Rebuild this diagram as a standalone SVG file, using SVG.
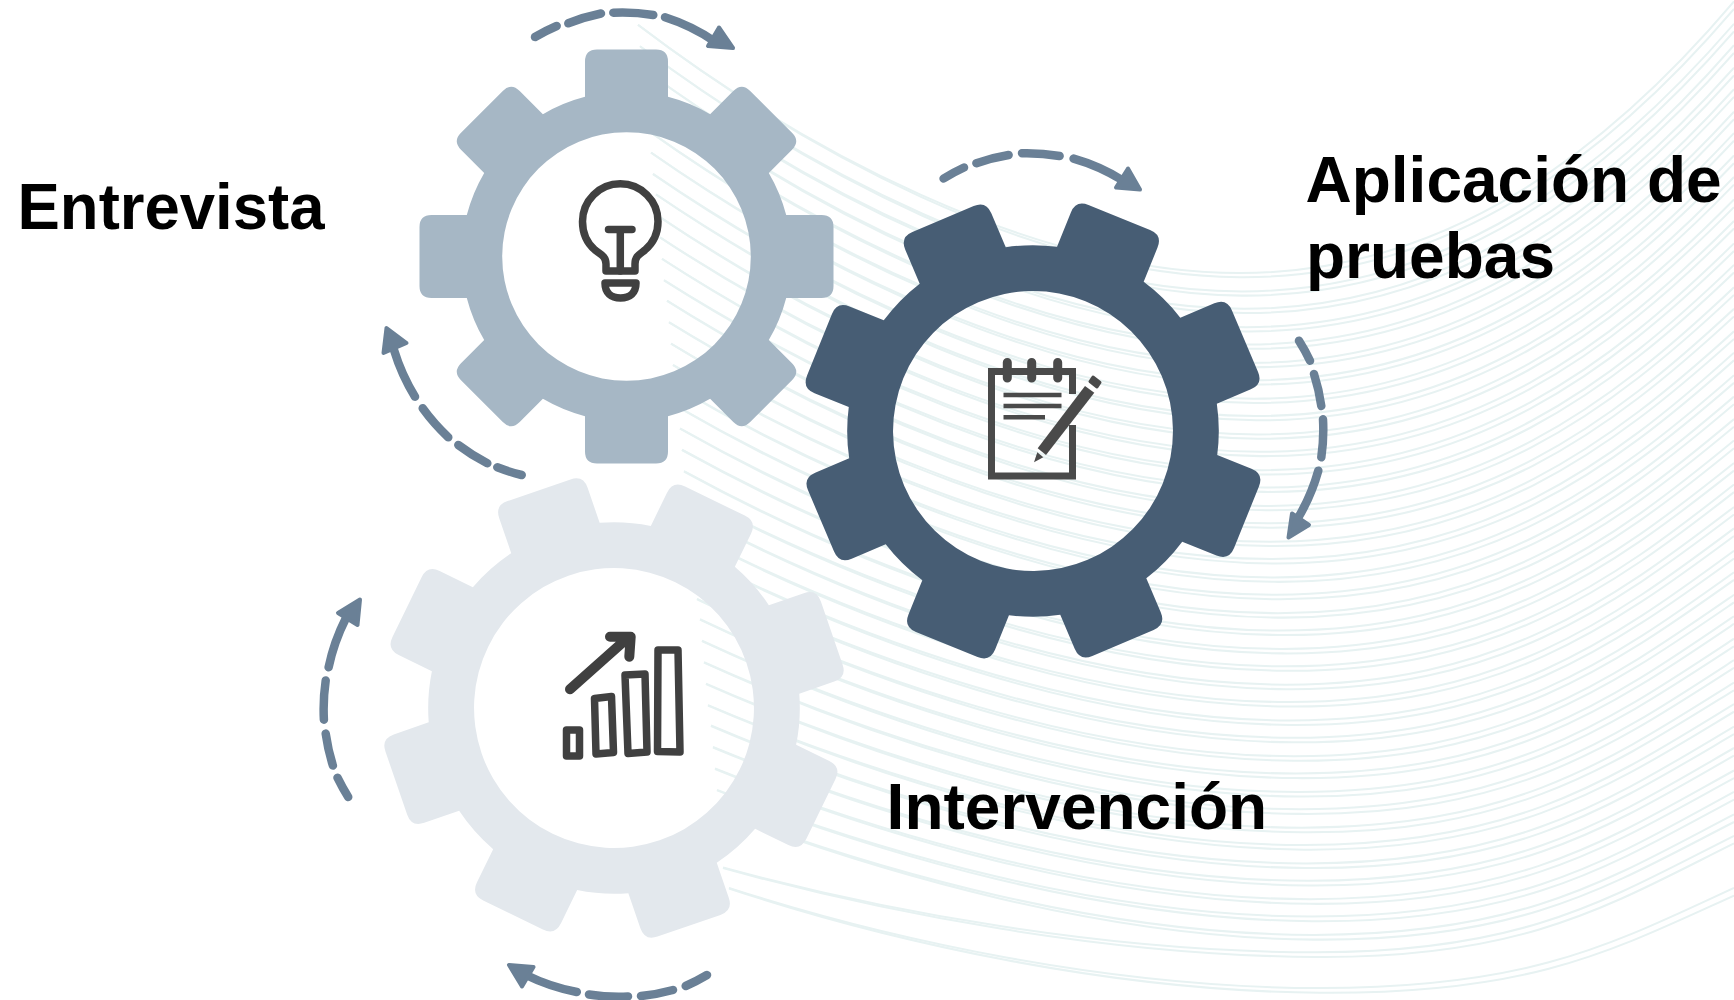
<svg xmlns="http://www.w3.org/2000/svg" xmlns:xlink="http://www.w3.org/1999/xlink" width="1734" height="1000" viewBox="0 0 1734 1000">
<style>
.bgl{fill:none;stroke:#e7f2f2;stroke-width:2}
.dash{fill:none;stroke:#6a8096;stroke-width:8.5;stroke-linecap:round}
.head{fill:#6a8096;stroke:#6a8096;stroke-width:4;stroke-linejoin:round}
.label{font-family:"Liberation Sans",Arial,sans-serif;font-weight:700;font-size:64px;fill:#000}
.ic{fill:none;stroke:#404040;stroke-width:7.5;stroke-linejoin:round;stroke-linecap:round}
.nb{fill:none;stroke:#4a4a4a;stroke-width:7}
</style>
<defs>
<path id="gear-a" fill-rule="evenodd" d="M-41.5 -159.7V-195Q-41.5 -207 -29.5 -207H29.5Q41.5 -207 41.5 -195V-159.7A165 165 0 0 1 83.6 -142.3L106.8 -165.5Q115.3 -174 123.7 -165.5L165.5 -123.7Q174 -115.3 165.5 -106.8L142.3 -83.6A165 165 0 0 1 159.7 -41.5H195Q207 -41.5 207 -29.5V29.5Q207 41.5 195 41.5H159.7A165 165 0 0 1 142.3 83.6L165.5 106.8Q174 115.3 165.5 123.7L123.7 165.5Q115.3 174 106.8 165.5L83.6 142.3A165 165 0 0 1 41.5 159.7V195Q41.5 207 29.5 207H-29.5Q-41.5 207 -41.5 195V159.7A165 165 0 0 1 -83.6 142.3L-106.8 165.5Q-115.3 174 -123.7 165.5L-165.5 123.7Q-174 115.3 -165.5 106.8L-142.3 83.6A165 165 0 0 1 -159.7 41.5H-195Q-207 41.5 -207 29.5V-29.5Q-207 -41.5 -195 -41.5H-159.7A165 165 0 0 1 -142.3 -83.6L-165.5 -106.8Q-174 -115.3 -165.5 -123.7L-123.7 -165.5Q-115.3 -174 -106.8 -165.5L-83.6 -142.3A165 165 0 0 1 -41.5 -159.7ZM124.3 0A124.3 124.3 0 1 0 -124.3 0A124.3 124.3 0 1 0 124.3 0Z"/>
<path id="gear-b" fill-rule="evenodd" d="M-41.5 -159.7V-192.5Q-41.5 -204.5 -29.5 -204.5H29.5Q41.5 -204.5 41.5 -192.5V-159.7A165 165 0 0 1 83.6 -142.3L106.8 -165.5Q115.3 -174 123.7 -165.5L165.5 -123.7Q174 -115.3 165.5 -106.8L142.3 -83.6A165 165 0 0 1 159.7 -41.5H192.5Q204.5 -41.5 204.5 -29.5V29.5Q204.5 41.5 192.5 41.5H159.7A165 165 0 0 1 142.3 83.6L165.5 106.8Q174 115.3 165.5 123.7L123.7 165.5Q115.3 174 106.8 165.5L83.6 142.3A165 165 0 0 1 41.5 159.7V192.5Q41.5 204.5 29.5 204.5H-29.5Q-41.5 204.5 -41.5 192.5V159.7A165 165 0 0 1 -83.6 142.3L-106.8 165.5Q-115.3 174 -123.7 165.5L-165.5 123.7Q-174 115.3 -165.5 106.8L-142.3 83.6A165 165 0 0 1 -159.7 41.5H-192.5Q-204.5 41.5 -204.5 29.5V-29.5Q-204.5 -41.5 -192.5 -41.5H-159.7A165 165 0 0 1 -142.3 -83.6L-165.5 -106.8Q-174 -115.3 -165.5 -123.7L-123.7 -165.5Q-115.3 -174 -106.8 -165.5L-83.6 -142.3A165 165 0 0 1 -41.5 -159.7ZM124.3 0A124.3 124.3 0 1 0 -124.3 0A124.3 124.3 0 1 0 124.3 0Z"/>
<g id="curves" class="bgl">
<path d="M638 30C800 150 1030 273 1240 273S1610 150 1734 7"/>
<path d="M640 51C802 169 1032 291 1242 291S1610 169 1734 29"/>
<path d="M642 72C804 188 1034 308 1244 308S1610 189 1734 50"/>
<path d="M645 92C807 208 1036 326 1246 326S1610 208 1734 72"/>
<path d="M647 113C809 227 1038 343 1248 343S1610 227 1734 93"/>
<path d="M649 134C811 246 1040 361 1250 361S1610 247 1734 115"/>
<path d="M651 155C813 265 1042 378 1252 378S1610 266 1734 136"/>
<path d="M653 176C815 284 1044 396 1254 396S1610 285 1734 158"/>
<path d="M656 196C818 303 1046 413 1256 413S1610 305 1734 179"/>
<path d="M658 217C820 323 1048 431 1258 431S1610 324 1734 201"/>
<path d="M660 238C822 342 1050 448 1260 448S1610 344 1734 222"/>
<path d="M662 259C824 361 1052 466 1262 466S1610 363 1734 244"/>
<path d="M664 280C826 380 1054 483 1264 483S1610 382 1734 265"/>
<path d="M667 300C829 399 1056 501 1266 501S1610 402 1734 287"/>
<path d="M669 321C831 418 1058 518 1268 518S1610 421 1734 308"/>
<path d="M671 342C833 438 1060 536 1270 536S1610 440 1734 330"/>
<path d="M673 363C835 457 1062 553 1272 553S1610 460 1734 351"/>
<path d="M675 384C837 476 1064 571 1274 571S1610 479 1734 373"/>
<path d="M678 404C840 495 1066 588 1276 588S1610 498 1734 394"/>
<path d="M680 425C842 514 1068 606 1278 606S1610 518 1734 416"/>
<path d="M682 446C844 533 1070 623 1280 623S1610 537 1734 437"/>
<path d="M684 467C846 553 1072 641 1282 641S1610 556 1734 459"/>
<path d="M686 488C848 572 1074 658 1284 658S1610 576 1734 480"/>
<path d="M689 508C851 591 1076 676 1286 676S1610 595 1734 502"/>
<path d="M691 529C853 610 1078 693 1288 693S1610 614 1734 523"/>
<path d="M693 550C855 629 1080 711 1290 711S1610 634 1734 545"/>
<path d="M695 571C857 648 1082 728 1292 728S1610 653 1734 566"/>
<path d="M697 592C859 668 1084 746 1294 746S1610 672 1734 588"/>
<path d="M700 612C862 687 1086 763 1296 763S1610 692 1734 609"/>
<path d="M702 633C864 706 1088 781 1298 781S1610 711 1734 631"/>
<path d="M704 654C866 725 1090 798 1300 798S1610 731 1734 652"/>
<path d="M706 675C868 744 1092 816 1302 816S1610 750 1734 674"/>
<path d="M708 696C870 763 1094 833 1304 833S1610 769 1734 695"/>
<path d="M711 716C873 783 1096 851 1306 851S1610 789 1734 717"/>
<path d="M713 737C875 802 1098 868 1308 868S1610 808 1734 738"/>
<path d="M715 758C877 821 1100 886 1310 886S1610 827 1734 760"/>
<path d="M717 779C879 840 1102 903 1312 903S1610 847 1734 781"/>
<path d="M719 800C881 859 1104 921 1314 921S1610 866 1734 803"/>
<path d="M723 855C885 898 1106 938 1316 938S1610 885 1734 824"/>
<path d="M729 875C890 926 1110 973 1320 973S1610 931 1734 875"/>
</g>
</defs>
<rect width="1734" height="1000" fill="#fff"/>
<g id="background">
<use href="#curves" transform="matrix(1 0 0 1.0214 0 -5.8)"/>
<use href="#curves" transform="matrix(1 0.007 0 1.0214 0 -10.3)"/>
</g>
<g id="connectors">
<g id="arrow-entrevista-top">
<path class="dash" d="M535 37A190 190 0 0 1 556.7 26M568.3 23.3A190 190 0 0 1 601 13.5M613.3 12.7A190 190 0 0 1 653.3 15M665 17.3A190 190 0 0 1 715 41.7"/>
<polygon class="head" points="733,48 719,27.5 708,46"/>
</g>
<g id="arrow-pruebas-top">
<path class="dash" d="M943.6 178.5A190 190 0 0 1 964 167.5M976.4 163.2A190 190 0 0 1 1008.6 155M1022 153.2A190 190 0 0 1 1059.6 156M1073.6 158.6A190 190 0 0 1 1122 180"/>
<polygon class="head" points="1140,189.5 1128,168.5 1116,187.5"/>
</g>
<g id="arrow-pruebas-right">
<path class="dash" d="M1299 340.7A190 190 0 0 1 1310 360.7M1314 374A190 190 0 0 1 1321.3 406M1323 419.3A190 190 0 0 1 1321.3 457.3M1318.3 470.7A190 190 0 0 1 1298 518"/>
<polygon class="head" points="1288.5,537.5 1292,513.5 1309,525"/>
</g>
<g id="arrow-entrevista-left">
<path class="dash" d="M521.7 475A200 200 0 0 1 497.3 467.3M487.3 463.3A200 200 0 0 1 458.3 445M448.3 437.3A200 200 0 0 1 422.7 408.3M415 396.7A200 200 0 0 1 394 350"/>
<polygon class="head" points="386.5,328 383.5,353 406.5,343"/>
</g>
<g id="arrow-intervencion-left">
<path class="dash" d="M348.2 797A200 200 0 0 1 337.5 777.7M332.9 765.6A200 200 0 0 1 325.7 733.6M323.9 719.7A200 200 0 0 1 325.7 680.5M328.6 667.3A200 200 0 0 1 346 618"/>
<polygon class="head" points="360,599.5 338,613 357.5,625"/>
</g>
<g id="arrow-intervencion-bottom">
<path class="dash" d="M707 975A200 200 0 0 1 685.7 986M673 990A200 200 0 0 1 641 996M628 996.5A200 200 0 0 1 589 994.5M576.8 992A200 200 0 0 1 526 975"/>
<polygon class="head" points="509,965 533.5,967 522,986.5"/>
</g>
</g>
<g id="node-entrevista">
<use href="#gear-a" fill="#a6b7c5" transform="translate(626.5 256.5)"/>
<g id="icon-bulb">
<path class="ic" d="M606 271V264C606 256 600 254 595 250C588 244 582.5 235 582.5 221.5A37.75 37.75 0 0 1 658 221.5C658 235 652 244 645 250C640 254 635 256 635 264V271Z"/>
<path class="ic" d="M608.5 229.5H632M620.3 229.5V271"/>
<path class="ic" d="M605 283H636C636 293 630 298 620.5 298C611 298 605 293 605 283Z"/>
</g>
<text class="label" x="17.5" y="229" textLength="307" lengthAdjust="spacingAndGlyphs">Entrevista</text>
</g>
<g id="node-pruebas">
<use href="#gear-b" fill="#475d74" transform="translate(1033 431) rotate(22) scale(1.126)"/>
<g id="icon-notepad">
<path class="nb" d="M1072.5 394V371.5H991.5V476H1072.5V425"/>
<path fill="none" stroke="#4a4a4a" stroke-width="9" stroke-linecap="round" d="M1007.3 362.5V378M1031.7 362.5V378M1057.7 362.5V378"/>
<path fill="none" stroke="#4a4a4a" stroke-width="4.5" d="M1003.5 395H1061.5M1003.5 406H1061.5M1003.5 417.3H1045"/>
<polygon fill="#4a4a4a" points="1085,386 1094.3,392.7 1046,455 1037.7,448.3"/>
<polygon fill="#4a4a4a" stroke="#4a4a4a" stroke-width="3" stroke-linejoin="round" points="1093,377 1100,382.5 1097,387 1090,381.5"/>
<polygon fill="#4a4a4a" points="1034,462.3 1037.3,452.3 1043.3,457.3"/>
</g>
<text class="label" x="1305.5" y="201.5">Aplicación de</text>
<text class="label" x="1306" y="277.7">pruebas</text>
</g>
<g id="node-intervencion">
<use href="#gear-b" fill="#e3e8ed" transform="translate(614 708) rotate(26) scale(1.126)"/>
<g id="icon-chart">
<path class="ic" d="M566.5 730H579.5V756H566.5Z"/>
<path class="ic" d="M594.5 698.5L611.5 696.5L613.5 752.5L596 754Z"/>
<path class="ic" d="M625 675L645 674L647 752L628 753.5Z"/>
<path class="ic" d="M658 650L678 650L680 752L657.5 751.5Z"/>
<path class="ic" style="stroke-width:10" d="M570 689.3L627.3 638.3M610 636.7H630.7L629.3 656.7"/>
</g>
<text class="label" x="886.6" y="828.5">Intervención</text>
</g>
</svg>
